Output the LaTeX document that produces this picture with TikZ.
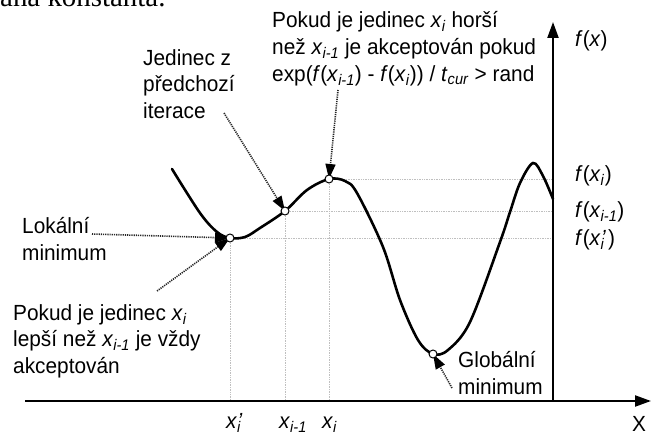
\documentclass[tikz,border=0pt]{standalone}
\usepackage{fontspec}
\setmainfont{Liberation Sans}[FakeStretch=0.95]
\newfontfamily\pagefont{Liberation Serif}
\usetikzlibrary{arrows.meta}

\newcommand{\xsub}[1]{\textit{x}\textsubscript{\textit{#1}}}
\newcommand{\xdash}{\textit{x}\rlap{\textsubscript{\textit{i}}}\textit{\kern0.5pt'}\kern2pt}

\begin{document}
\begin{tikzpicture}[x=1bp, y=-1bp,
  lbl/.style={font=\fontsize{22}{27}\selectfont, inner sep=0pt, align=left, anchor=north west},
  tag/.style={font=\fontsize{22}{27}\selectfont, inner sep=0pt, anchor=base west},
  pnt/.style={circle, draw, fill=white, line width=1pt, inner sep=0pt, minimum size=8bp},
  guide/.style={gray!50, densely dotted, line width=0.7pt},
  pointer/.style={dash pattern=on 1.2pt off 1pt, line width=1.6pt, black!85, -{Triangle[length=15bp, width=10bp, black]}},
  axis/.style={line width=2.2pt, -{Triangle[length=16bp, width=11bp]}}]

  \useasboundingbox (0,0) rectangle (652,435);

  % --- text of the page above ---
  \node[font=\pagefont\fontsize{29}{30}\selectfont, anchor=base west, inner sep=0pt] (pagetxt) at (0,7) {ana konstanta.};

  % --- Axes ---
  \coordinate (o) at (553,401);
  \coordinate (xl) at (25,401);
  \coordinate (xr) at (651,401);
  \coordinate (yt) at (553,22);

  % --- Points on the curve ---
  \coordinate (p1) at (230,238);
  \coordinate (p2) at (285,211);
  \coordinate (p3) at (329,179);
  \coordinate (p4) at (433,354);

  % --- Guides ---
  \foreach \p in {p1,p2,p3}{
    \draw[guide] (\p) -- (\p |- o);
    \draw[guide] (\p) -- (\p -| o);
  }

  % --- Curve ---
  \draw[line width=2.6pt, line cap=round] plot[smooth, tension=0.55] coordinates {
    (172,169) (200,213) (217,232) (p1) (245,237) (260,228) (p2) (307,190) (p3)
    (345,181) (357,193) (383,247) (400,300) (418,340) (p4) (448,350) (470,322)
    (500,242) (510,212) (520,183) (533,163) (543,176) (553,199)};

  \draw[axis] (xl) -- (xr);
  \draw[axis] (o) -- (yt);

  % --- Labels ---
  \node[lbl] (topnote) at (272,11) {Pokud je jedinec \xsub{i} horší\\než \xsub{i-1} je akceptován pokud\\exp(\textit{f}(\xsub{i-1}) - \textit{f}(\xsub{i})) / \textit{t}\textsubscript{\textit{cur}} > rand};
  \node[lbl] (prevnote) at (143,49) {Jedinec z\\předchozí\\iterace};
  \node[lbl] (locnote) at (22,217) {Lokální\\minimum};
  \node[lbl] (betternote) at (13,304) {Pokud je jedinec \xsub{i}\\lepší než \xsub{i-1} je vždy\\akceptován};
  \node[lbl] (globnote) at (458,351) {Globální\\minimum};

  \node[tag] (fx) at (575,47) {\textit{f}(\textit{x})};
  \node[tag] (fxi) at (575,182) {\textit{f}(\xsub{i})};
  \node[tag] (fxp) at (575,218) {\textit{f}(\xsub{i-1})};
  \node[tag] (fxd) at (575,246) {\textit{f}(\xdash)};

  \node[tag] (xd) at (226,428) {\xdash};
  \node[tag] (xp) at (279,428) {\xsub{i-1}};
  \node[tag] (xi) at (322,428) {\xsub{i}};
  \node[tag] (xlab) at (632,431) {X};

  % --- Pointers ---
  \draw[pointer] ([shift={(66,79)}]topnote.north west) -- (p3);
  \draw[pointer] ([shift={(81,64)}]prevnote.north west) -- (p2);
  \draw[pointer] ([shift={(70,17)}]locnote.north west) -- (p1);
  \draw[pointer] ([shift={(144,-13)}]betternote.north west) -- (p1);
  \draw[pointer] ([shift={(-6,37)}]globnote.north west) -- (p4);

  % --- Circles ---
  \node[pnt] (lmin) at (p1) {};
  \node[pnt] (prev) at (p2) {};
  \node[pnt] (cur) at (p3) {};
  \node[pnt] (gmin) at (p4) {};

\end{tikzpicture}
\end{document}
